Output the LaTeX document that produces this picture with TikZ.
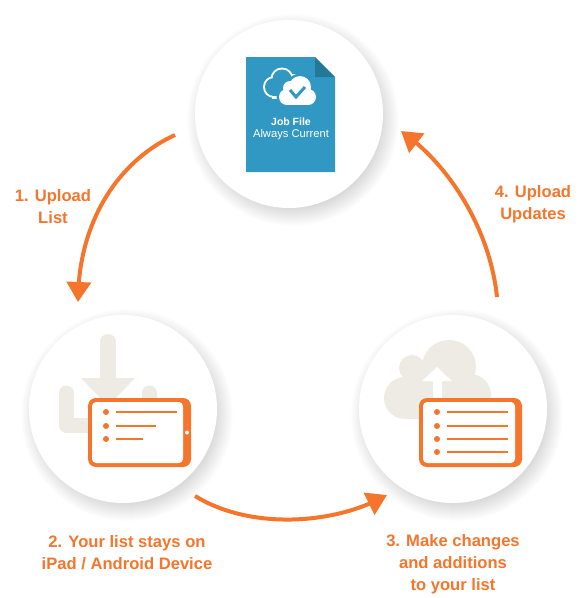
\documentclass[tikz,border=0pt]{standalone}
\usepackage{fontspec}
\setmainfont{Liberation Sans}
\usepackage{xcolor}
\usetikzlibrary{arrows.meta,bending}
\definecolor{accent}{HTML}{F4752B}
\definecolor{docblue}{HTML}{3098C3}
\definecolor{docfold}{HTML}{23789A}
\definecolor{putty}{HTML}{EEEAE4}

\begin{document}
\begin{tikzpicture}[
  x=1pt, y=-1pt,
  disc/.style={circle, fill=white, minimum size=188pt, inner sep=0pt},
  halo/.style={fill=black, fill opacity=0.006, draw=none},
  arr/.style={-{Triangle[length=20pt, width=24pt, flex=1]}, line width=4pt, accent},
  step label/.style={align=center, text=accent, font=\fontsize{16.6}{22}\selectfont\bfseries},
  tablet/.style={fill=accent, rounded corners=8pt, minimum width=103pt, minimum height=69pt, inner sep=0pt},
  screen/.style={fill=white, rounded corners=4pt, inner sep=0pt},
  bullet/.style={circle, fill=accent, minimum size=6pt, inner sep=0pt},
  rowline/.style={line width=1.6pt, accent},
  tray/.style={line width=15pt, putty, line cap=round, line join=round}
]
  \useasboundingbox (0,0) rectangle (580,598);
  % shadows
  \foreach \c/\d in {289/114, 123/409, 453/409}
    \foreach \r in {88,89,...,106}
      \fill[halo] (\c+4,\d+6) circle[radius=\r];
  \node[disc] (job) at (289,114) {};
  \node[disc] (ipad) at (123,409) {};
  \node[disc] (edit) at (453,409) {};

  % job file
  \fill[docblue] (246,57) -- (315,57) -- (335,77) -- (335,172) -- (246,172) -- cycle;
  \fill[docfold] (315,57) -- (335,77) -- (315,77) -- cycle;
  \fill[white] (274,87) circle[radius=11] (282,79) circle[radius=11.5] (294,83) circle[radius=9];
  \fill[white] (272,90) rectangle (296,98.5);
  \fill[docblue] (274,87) circle[radius=9] (282,79) circle[radius=9.5] (294,83) circle[radius=7];
  \fill[docblue] (274,84) rectangle (296,96);
  \fill[docblue] (287,97) circle[radius=10.5] (290,88) circle[radius=9.5] (300,87) circle[radius=13.5];
  \fill[white] (287,97) circle[radius=8] (290,88) circle[radius=7] (300,87) circle[radius=11]
    (308,97) circle[radius=8];
  \fill[white] (287,90) rectangle (308,105);
  \draw[docblue, line width=3pt] (290,90) -- (296,97) -- (305,87);
  \node[text=white, font=\fontsize{10.5}{12}\selectfont\bfseries] (jobname) at (291,122) {Job File};
  \node[text=white, font=\fontsize{11.2}{12}\selectfont] (jobstate) at (291,135) {Always Current};

  % download icon
  \draw[tray] (66,393) -- (66,425) -- (149,425) -- (149,393);
  \draw[putty, line width=16pt, line cap=round] (108,342) -- (108,385);
  \fill[putty, rounded corners=1pt] (81,378) -- (135,378) -- (108,406) -- cycle;
  \node[tablet] (padleft) at (139.5,432.5) {};
  \node[screen, minimum width=91pt, minimum height=61pt] (padleftscreen) at (137.5,432.5) {};
  \fill[white] (187,432.5) circle[radius=2];
  \foreach \y/\e in {412/177, 426/156, 439/143} {
    \node[bullet] at (106,\y) {};
    \draw[rowline] (116,\y) -- (\e,\y);
  }

  % cloud icon
  \fill[putty] (449,367) circle[radius=27] (412,368) circle[radius=13]
    (405,398) circle[radius=21] (470,395) circle[radius=21];
  \fill[putty] (405,375) rectangle (470,419);
  \fill[white] (437,367) -- (452,381) -- (442,381) -- (442,402) -- (433,402) -- (433,381) -- (422,381) -- cycle;
  \node[tablet] (padright) at (470.5,432.5) {};
  \node[screen, minimum width=92pt, minimum height=61pt] (padrightscreen) at (469,432.5) {};
  \foreach \y in {412,426,439,452} {
    \node[bullet] at (437,\y) {};
    \draw[rowline] (447,\y) -- (508,\y);
  }

  % connectors
  \coordinate (jobout) at (175,135);
  \coordinate (ipadin) at (78,302);
  \coordinate (ipadout) at (195,496);
  \coordinate (editin) at (387,495);
  \coordinate (editout) at (497,297);
  \coordinate (jobin) at (401,131);
  \draw[arr] (jobout) .. controls (120,160) and (78,220) .. (ipadin);
  \draw[arr] (ipadout) .. controls (250,530) and (335,525) .. (editin);
  \draw[arr] (editout) .. controls (490,230) and (450,165) .. (jobin);

  \node[step label] (upload) at (53,207) {1. Upload\\List};
  \node[step label] (stays) at (127,553) {2. Your list stays on\\iPad / Android Device};
  \node[step label] (changes) at (453,564) {3. Make changes\\and additions\\to your list};
  \node[step label] (updates) at (533,204) {4. Upload\\Updates};
\end{tikzpicture}
\end{document}
